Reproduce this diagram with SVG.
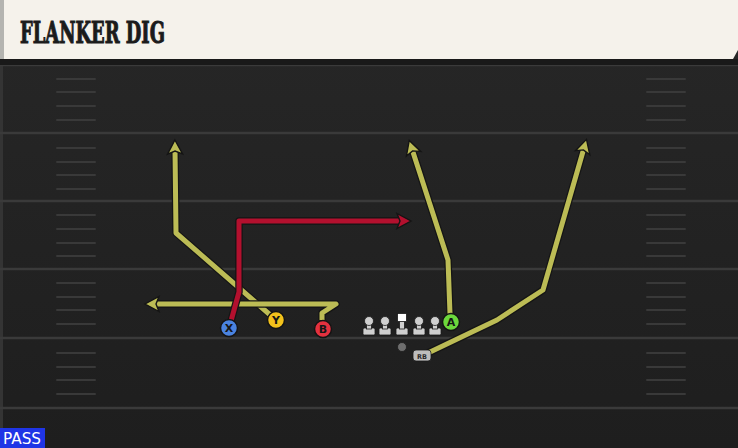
<svg xmlns="http://www.w3.org/2000/svg" width="738" height="448" viewBox="0 0 738 448">
<defs>
<linearGradient id="fieldGrad" x1="0" y1="0" x2="0" y2="1">
<stop offset="0" stop-color="#272727"/>
<stop offset="1" stop-color="#1e1e1e"/>
</linearGradient>
<marker id="arrY" markerUnits="userSpaceOnUse" markerWidth="30" markerHeight="30" viewBox="-15 -15 30 30" refX="0" refY="0" orient="auto" overflow="visible">
<path d="M-5,-7.5 L9,0 L-5,7.5 L-2,0 Z" fill="#bcbc55" stroke="#141414" stroke-width="1.4" stroke-linejoin="miter"/>
</marker>
<marker id="arrR" markerUnits="userSpaceOnUse" markerWidth="30" markerHeight="30" viewBox="-15 -15 30 30" refX="0" refY="0" orient="auto" overflow="visible">
<path d="M-5,-7.5 L9,0 L-5,7.5 L-2,0 Z" fill="#b3102e" stroke="#141414" stroke-width="1.4" stroke-linejoin="miter"/>
</marker>
</defs>
<style>
.yard{stroke:#3a3a3a;stroke-width:2.5}
.hash{stroke:#393939;stroke-width:2;stroke-linecap:round}
.under{fill:none;stroke:#151515;stroke-width:7.5;stroke-linejoin:round;stroke-linecap:butt}
.ry{fill:none;stroke:#bcbc55;stroke-width:5;stroke-linejoin:round}
.rr{fill:none;stroke:#b3102e;stroke-width:5;stroke-linejoin:round}
.tok{stroke:#141414;stroke-width:1.5}
.lbl{font-family:"DejaVu Sans","Liberation Sans",sans-serif;font-weight:bold;font-size:11px;fill:#161616;text-anchor:middle}
.lm{fill:#cfcfcf;stroke:#1a1a1a;stroke-width:0.8}
</style>

<!-- field -->
<rect x="0" y="0" width="738" height="448" fill="url(#fieldGrad)"/>
<rect x="0" y="60" width="3" height="388" fill="#343434"/>
<g id="field-lines">
<line class="yard" x1="0" y1="65" x2="738" y2="65"/>
<line class="yard" x1="0" y1="133" x2="738" y2="133"/>
<line class="yard" x1="0" y1="201" x2="738" y2="201"/>
<line class="yard" x1="0" y1="269" x2="738" y2="269"/>
<line class="yard" x1="0" y1="338" x2="738" y2="338"/>
<line class="yard" x1="0" y1="408" x2="738" y2="408"/>
<g id="hash-left">
<line class="hash" x1="57" y1="79" x2="95" y2="79"/>
<line class="hash" x1="57" y1="92" x2="95" y2="92"/>
<line class="hash" x1="57" y1="106" x2="95" y2="106"/>
<line class="hash" x1="57" y1="120" x2="95" y2="120"/>
<line class="hash" x1="57" y1="148" x2="95" y2="148"/>
<line class="hash" x1="57" y1="162" x2="95" y2="162"/>
<line class="hash" x1="57" y1="175" x2="95" y2="175"/>
<line class="hash" x1="57" y1="189" x2="95" y2="189"/>
<line class="hash" x1="57" y1="215" x2="95" y2="215"/>
<line class="hash" x1="57" y1="229" x2="95" y2="229"/>
<line class="hash" x1="57" y1="243" x2="95" y2="243"/>
<line class="hash" x1="57" y1="256" x2="95" y2="256"/>
<line class="hash" x1="57" y1="283" x2="95" y2="283"/>
<line class="hash" x1="57" y1="297" x2="95" y2="297"/>
<line class="hash" x1="57" y1="310" x2="95" y2="310"/>
<line class="hash" x1="57" y1="324" x2="95" y2="324"/>
<line class="hash" x1="57" y1="353" x2="95" y2="353"/>
<line class="hash" x1="57" y1="367" x2="95" y2="367"/>
<line class="hash" x1="57" y1="380" x2="95" y2="380"/>
<line class="hash" x1="57" y1="394" x2="95" y2="394"/>
</g>
<g id="hash-right">
<line class="hash" x1="647" y1="79" x2="685" y2="79"/>
<line class="hash" x1="647" y1="92" x2="685" y2="92"/>
<line class="hash" x1="647" y1="106" x2="685" y2="106"/>
<line class="hash" x1="647" y1="120" x2="685" y2="120"/>
<line class="hash" x1="647" y1="148" x2="685" y2="148"/>
<line class="hash" x1="647" y1="162" x2="685" y2="162"/>
<line class="hash" x1="647" y1="175" x2="685" y2="175"/>
<line class="hash" x1="647" y1="189" x2="685" y2="189"/>
<line class="hash" x1="647" y1="215" x2="685" y2="215"/>
<line class="hash" x1="647" y1="229" x2="685" y2="229"/>
<line class="hash" x1="647" y1="243" x2="685" y2="243"/>
<line class="hash" x1="647" y1="256" x2="685" y2="256"/>
<line class="hash" x1="647" y1="283" x2="685" y2="283"/>
<line class="hash" x1="647" y1="297" x2="685" y2="297"/>
<line class="hash" x1="647" y1="310" x2="685" y2="310"/>
<line class="hash" x1="647" y1="324" x2="685" y2="324"/>
<line class="hash" x1="647" y1="353" x2="685" y2="353"/>
<line class="hash" x1="647" y1="367" x2="685" y2="367"/>
<line class="hash" x1="647" y1="380" x2="685" y2="380"/>
<line class="hash" x1="647" y1="394" x2="685" y2="394"/>
</g>
</g>

<!-- header -->
<g id="header">
<rect x="0" y="59" width="738" height="6" fill="#191919"/>
<path d="M0,0 H738 V50 L733,59 H0 Z" fill="#f5f2eb"/>
<rect x="0" y="0" width="4" height="59" fill="#b4b4b0"/>
<text x="20" y="43" font-family="'DejaVu Serif','Liberation Serif',serif" font-weight="bold" font-size="29" fill="#1b1b1b" stroke="#1b1b1b" stroke-width="1.1" textLength="145" lengthAdjust="spacingAndGlyphs">FLANKER DIG</text>
</g>

<!-- connectors -->
<g id="routes">
<path class="under" d="M276,320 L176,233 L175,149"/>
<path class="ry" d="M276,320 L176,233 L175,149" marker-end="url(#arrY)"/>
<path class="under" d="M322,320 L322,313 L336,304 L154,304"/>
<path class="ry" d="M322,320 L322,313 L336,304 L154,304" marker-end="url(#arrY)"/>
<path class="under" d="M450,314 L448,260 L412,149"/>
<path class="ry" d="M450,314 L448,260 L412,149" marker-end="url(#arrY)"/>
<path class="under" d="M428,353 L497,320 L543,290 L584,148"/>
<path class="ry" d="M428,353 L497,320 L543,290 L584,148" marker-end="url(#arrY)"/>
<path class="under" d="M231,321 L239,292 L239,221 L402,221"/>
<path class="rr" d="M231,321 L239,292 L239,221 L402,221" marker-end="url(#arrR)"/>
</g>

<!-- offensive line -->
<g id="ol-lt"><rect class="lm" x="363" y="328" width="12" height="7" rx="1.5"/><rect class="lm" x="366.5" y="322" width="5" height="7"/><circle class="lm" cx="369" cy="321" r="4.5"/></g>
<g id="ol-lg"><rect class="lm" x="379" y="328" width="12" height="7" rx="1.5"/><rect class="lm" x="382.5" y="322" width="5" height="7"/><circle class="lm" cx="385" cy="321" r="4.5"/></g>
<g id="ol-c"><rect class="lm" x="396" y="328" width="12" height="7" rx="1.5"/><rect class="lm" x="399.5" y="321" width="5" height="8"/><rect x="397.5" y="313.5" width="9" height="8" fill="#ffffff" stroke="#1a1a1a" stroke-width="0.8"/></g>
<g id="ol-rg"><rect class="lm" x="413" y="328" width="12" height="7" rx="1.5"/><rect class="lm" x="416.5" y="322" width="5" height="7"/><circle class="lm" cx="419" cy="321" r="4.5"/></g>
<g id="ol-rt"><rect class="lm" x="429" y="328" width="12" height="7" rx="1.5"/><rect class="lm" x="432.5" y="322" width="5" height="7"/><circle class="lm" cx="435" cy="321" r="4.5"/></g>

<g id="qb"><circle cx="402" cy="347" r="4.5" fill="#6e6e6e" stroke="#1a1a1a" stroke-width="0.8"/></g>
<g id="rb"><rect x="413" y="350" width="18" height="11" rx="3" fill="#bdbdbd" stroke="#1a1a1a" stroke-width="0.8"/><text x="422" y="358.5" font-family="'DejaVu Sans','Liberation Sans',sans-serif" font-weight="bold" font-size="6.5" fill="#2a2a2a" text-anchor="middle">RB</text></g>

<g id="x"><circle class="tok" cx="229" cy="328" r="8.5" fill="#4a83e0"/><text class="lbl" x="229" y="332">X</text></g>
<g id="y"><circle class="tok" cx="276" cy="320" r="8.5" fill="#f3c21c"/><text class="lbl" x="276" y="324">Y</text></g>
<g id="b"><circle class="tok" cx="323" cy="329" r="8.5" fill="#e4313f"/><text class="lbl" x="323" y="333">B</text></g>
<g id="a"><circle class="tok" cx="451" cy="322" r="8.5" fill="#6cd83c"/><text class="lbl" x="451" y="326">A</text></g>

<g id="pass-tag">
<rect x="0" y="428" width="45" height="20" fill="#1f35e6"/>
<text x="3" y="444" font-family="'DejaVu Sans','Liberation Sans',sans-serif" font-size="15" fill="#ffffff" textLength="38" lengthAdjust="spacingAndGlyphs">PASS</text>
</g>
</svg>
